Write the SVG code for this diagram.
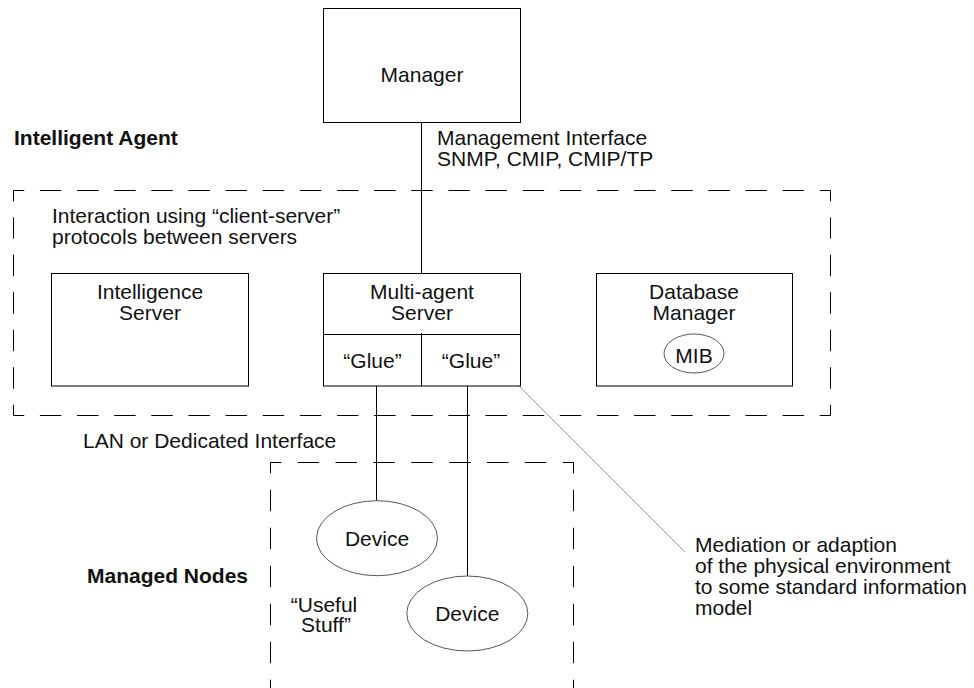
<svg xmlns="http://www.w3.org/2000/svg" width="974" height="688" viewBox="0 0 974 688">
  <style>
    .t { font-family: "Liberation Sans", Arial, Helvetica, sans-serif; font-size: 21px; fill: #111; }
    .c { text-anchor: middle; }
    .b { font-weight: bold; }
    .box { fill: #fff; stroke: #000; stroke-width: 1; }
    .oval { fill: #fff; stroke: #444; stroke-width: 0.9; }
    .ln { stroke: #000; stroke-width: 1; fill: none; }
    .lead { stroke: #999; stroke-width: 1; fill: none; }
    .dash { stroke: #000; stroke-width: 1; fill: none; }
  </style>

  <rect width="974" height="688" fill="#fff"/>

  <!-- Intelligent Agent boundary (each side dashed from its corners) -->
  <g id="agent-boundary">
    <line class="dash" x1="13.5" y1="190.5" x2="830.5" y2="190.5" stroke-dasharray="21.5 15.636" stroke-dashoffset="10.75"/>
    <line class="dash" x1="13.5" y1="415.5" x2="830.5" y2="415.5" stroke-dasharray="21.5 15.636" stroke-dashoffset="10.75"/>
    <line class="dash" x1="13.5" y1="190.5" x2="13.5" y2="415.5" stroke-dasharray="21.5 16" stroke-dashoffset="10.75"/>
    <line class="dash" x1="830.5" y1="190.5" x2="830.5" y2="415.5" stroke-dasharray="21.5 16" stroke-dashoffset="10.75"/>
  </g>

  <!-- Managed Nodes boundary (open at the bottom) -->
  <g id="nodes-boundary">
    <line class="dash" x1="270.5" y1="462.5" x2="573.5" y2="462.5" stroke-dasharray="21.5 16.375" stroke-dashoffset="10.75"/>
    <line class="dash" x1="270.5" y1="462.5" x2="270.5" y2="700" stroke-dasharray="21.5 16.5" stroke-dashoffset="10.75"/>
    <line class="dash" x1="573.5" y1="462.5" x2="573.5" y2="700" stroke-dasharray="21.5 16.5" stroke-dashoffset="10.75"/>
  </g>

  <!-- Connectors -->
  <g id="connectors">
    <line class="ln" x1="421.5" y1="122.5" x2="421.5" y2="273.5"/>
    <line class="ln" x1="376.5" y1="386" x2="376.5" y2="500.7"/>
    <line class="ln" x1="467.5" y1="386" x2="467.5" y2="576"/>
    <line class="lead" x1="513" y1="380" x2="685" y2="552"/>
  </g>

  <g id="manager">
    <rect class="box" x="323.5" y="8.5" width="197" height="114"/>
    <text class="t c" x="422" y="82">Manager</text>
  </g>

  <g id="intelligence-server">
    <rect class="box" x="51.5" y="273.5" width="197" height="112.5"/>
    <text class="t c" x="150" y="298.5">Intelligence</text>
    <text class="t c" x="150" y="319.5">Server</text>
  </g>

  <g id="multi-agent-server">
    <rect class="box" x="323.5" y="273.5" width="197" height="112.5"/>
    <line class="ln" x1="323.5" y1="334.5" x2="520.5" y2="334.5"/>
    <line class="ln" x1="421.5" y1="333" x2="421.5" y2="386.5"/>
    <text class="t c" x="422" y="298.5">Multi-agent</text>
    <text class="t c" x="422" y="319.5">Server</text>
    <text class="t c" x="372.5" y="367.5">“Glue”</text>
    <text class="t c" x="471" y="367.5">“Glue”</text>
  </g>

  <g id="database-manager">
    <rect class="box" x="596.5" y="273.5" width="196" height="112.5"/>
    <text class="t c" x="694" y="299">Database</text>
    <text class="t c" x="694" y="320">Manager</text>
    <ellipse class="oval" cx="694" cy="353.5" rx="30" ry="19.5"/>
    <text class="t c" x="694" y="363">MIB</text>
  </g>

  <g id="device-1">
    <ellipse class="oval" cx="377" cy="538.2" rx="60.5" ry="37.5"/>
    <text class="t c" x="377" y="545.7">Device</text>
  </g>

  <g id="device-2">
    <ellipse class="oval" cx="467.3" cy="613.5" rx="60.5" ry="37.5"/>
    <text class="t c" x="467.3" y="620.7">Device</text>
  </g>

  <!-- Labels -->
  <g id="labels">
    <text class="t b" x="14" y="145">Intelligent Agent</text>
    <text class="t" x="437" y="145">Management Interface</text>
    <text class="t" x="437" y="166">SNMP, CMIP, CMIP/TP</text>
    <text class="t" x="52" y="223">Interaction using “client-server”</text>
    <text class="t" x="52" y="244">protocols between servers</text>
    <text class="t" x="83" y="448">LAN or Dedicated Interface</text>
    <text class="t b" x="87" y="583">Managed Nodes</text>
    <text class="t c" x="324" y="611.5">“Useful</text>
    <text class="t c" x="326" y="632">Stuff”</text>
    <text class="t" x="695" y="552">Mediation or adaption</text>
    <text class="t" x="695" y="573">of the physical environment</text>
    <text class="t" x="695" y="594">to some standard information</text>
    <text class="t" x="695" y="614.5">model</text>
  </g>
</svg>
